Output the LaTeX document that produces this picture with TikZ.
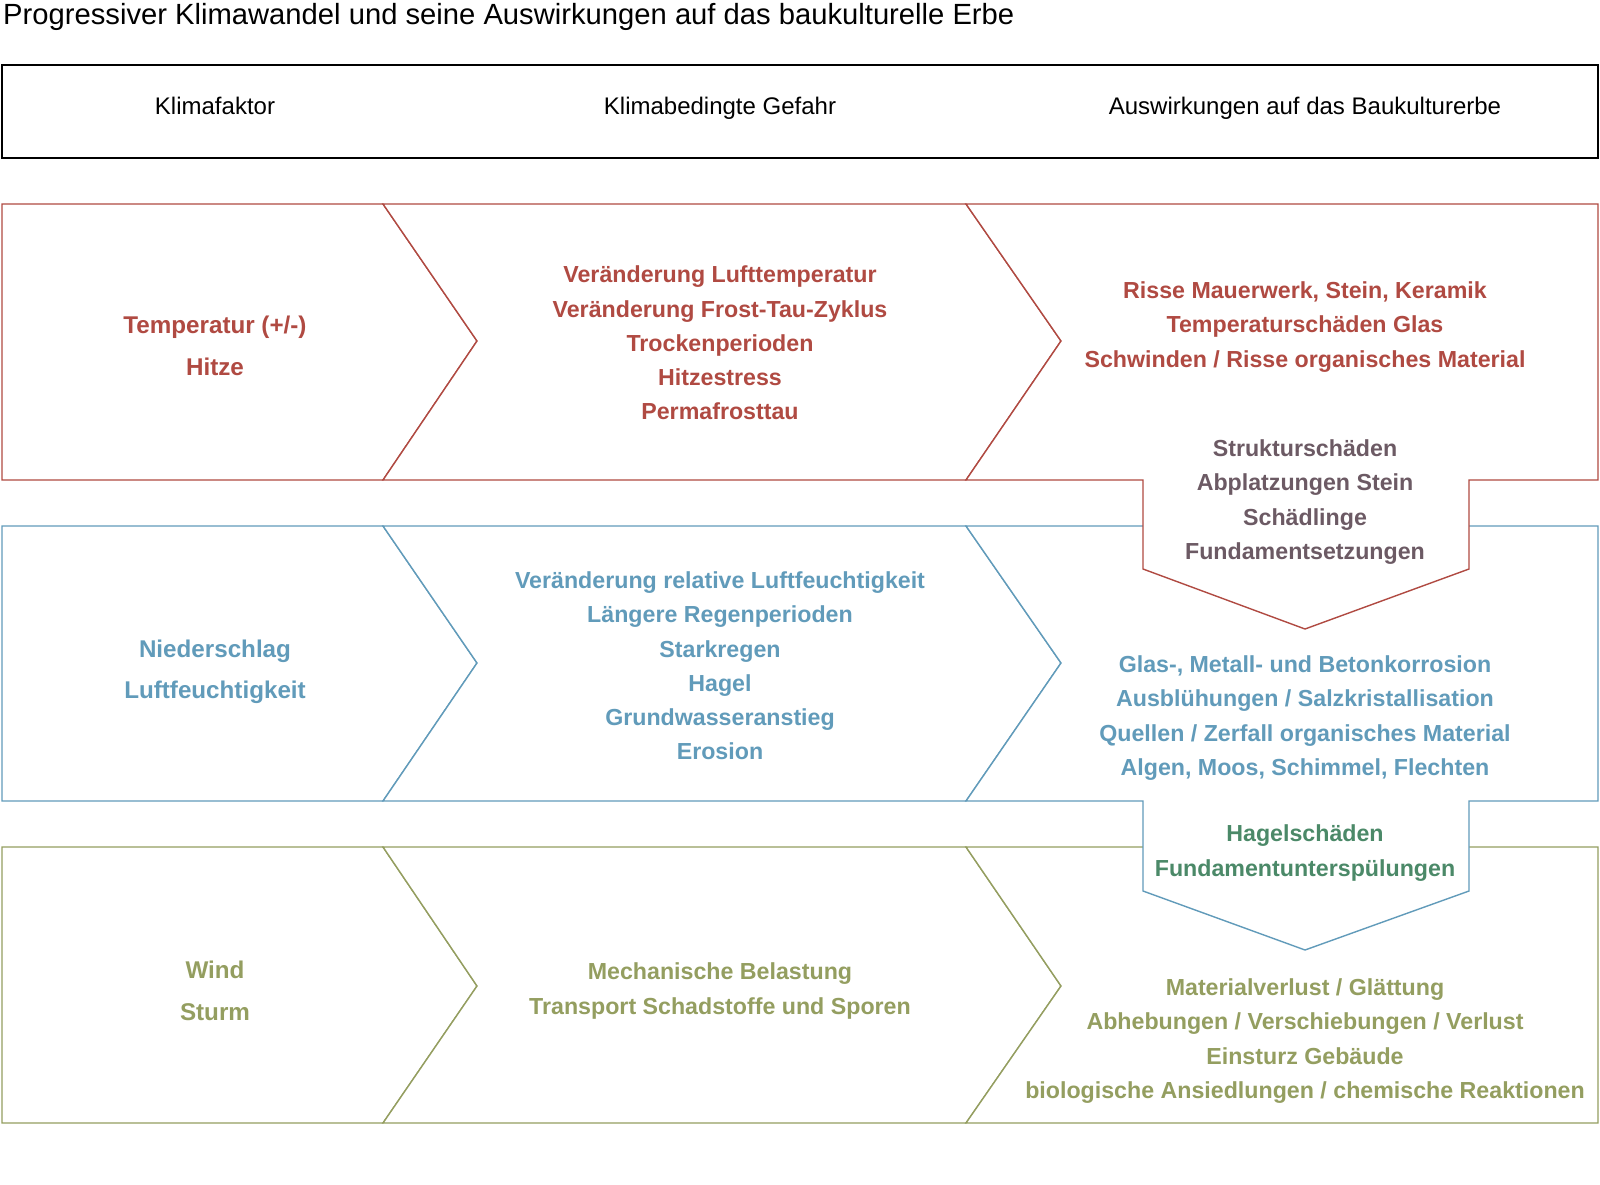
\documentclass[tikz,border=0pt]{standalone}
\usepackage{fontspec}
\setmainfont{Liberation Sans}
\usepackage{tikz}
\usetikzlibrary{positioning}
\definecolor{tempred}{RGB}{176,74,66}
\definecolor{rainblue}{RGB}{97,155,186}
\definecolor{windolive}{RGB}{148,158,96}
\definecolor{hailgreen}{RGB}{75,137,104}
\definecolor{structgray}{RGB}{108,90,100}

\begin{document}
\begin{tikzpicture}[x=1pt, y=-1pt,
    band/.style={line width=1.4pt, fill=white, line join=miter},
    txt/.style={align=center, font=\bfseries\fontsize{23.2}{34.2}\selectfont},
    factor/.style={align=center, font=\bfseries\fontsize{24.2}{41.5}\selectfont},
    head/.style={anchor=base, font=\fontsize{24}{28}\selectfont}]
    \useasboundingbox (0,0) rectangle (1600,1185);

    \node[anchor=base west, inner sep=0pt, font=\fontsize{29.2}{32}\selectfont] (title) at (3,25) {Progressiver Klimawandel und seine Auswirkungen auf das baukulturelle Erbe};
    \draw[line width=1.8pt] (2,65) rectangle (1598,158);
    \node[head] (hfactor) at (215,115) {Klimafaktor};
    \node[head] (hrisk) at (720,115) {Klimabedingte Gefahr};
    \node[head] (heffect) at (1305,115) {Auswirkungen auf das Baukulturerbe};

    \draw[band, draw=windolive] (2,847) -- (383,847) -- (477,986) -- (383,1123) -- (2,1123) -- cycle;
    \draw[band, draw=windolive] (383,847) -- (966,847) -- (1061,986) -- (966,1123) -- (383,1123) -- (477,986) -- cycle;
    \draw[band, draw=windolive] (966,847) -- (1598,847) -- (1598,1123) -- (966,1123) -- (1061,986) -- cycle;

    \draw[band, draw=rainblue] (2,526) -- (383,526) -- (477,663) -- (383,801) -- (2,801) -- cycle;
    \draw[band, draw=rainblue] (383,526) -- (966,526) -- (1061,663) -- (966,801) -- (383,801) -- (477,663) -- cycle;
    \draw[band, draw=rainblue] (966,526) -- (1598,526) -- (1598,801) -- (1469,801) -- (1469,891) -- (1305,950) -- (1143,891) -- (1143,801) -- (966,801) -- (1061,663) -- cycle;

    \draw[band, draw=tempred] (2,204) -- (383,204) -- (477,341) -- (383,480) -- (2,480) -- cycle;
    \draw[band, draw=tempred] (383,204) -- (966,204) -- (1061,341) -- (966,480) -- (383,480) -- (477,341) -- cycle;
    \draw[band, draw=tempred] (966,204) -- (1598,204) -- (1598,480) -- (1469,480) -- (1469,569) -- (1305,629) -- (1143,569) -- (1143,480) -- (966,480) -- (1061,341) -- cycle;

    \node[factor, tempred] (temp) at (215,346) {Temperatur (+/-)\\Hitze};
    \node[txt, tempred] (temprisk) at (720,343) {Veränderung Lufttemperatur\\Veränderung Frost-Tau-Zyklus\\Trockenperioden\\Hitzestress\\Permafrosttau};
    \node[txt, tempred] (tempeffect) at (1305,327) {Risse Mauerwerk, Stein, Keramik\\Temperaturschäden Glas\\Schwinden / Risse organisches Material};
    \node[txt, structgray] (struct) at (1305,502) {Strukturschäden\\Abplatzungen Stein\\Schädlinge\\Fundamentsetzungen};

    \node[factor, rainblue] (rain) at (215,672) {Niederschlag\\Luftfeuchtigkeit};
    \node[txt, rainblue] (rainrisk) at (720,666) {Veränderung relative Luftfeuchtigkeit\\Längere Regenperioden\\Starkregen\\Hagel\\Grundwasseranstieg\\Erosion};
    \node[txt, rainblue] (raineffect) at (1305,718) {Glas-, Metall- und Betonkorrosion\\Ausblühungen / Salzkristallisation\\Quellen / Zerfall organisches Material\\Algen, Moos, Schimmel, Flechten};
    \node[txt, hailgreen] (hail) at (1305,853) {Hagelschäden\\Fundamentunterspülungen};

    \node[factor, windolive] (wind) at (215,991) {Wind\\Sturm};
    \node[txt, windolive] (windrisk) at (720,991) {Mechanische Belastung\\Transport Schadstoffe und Sporen};
    \node[txt, windolive] (windeffect) at (1305,1041) {Materialverlust / Glättung\\Abhebungen / Verschiebungen / Verlust\\Einsturz Gebäude\\biologische Ansiedlungen / chemische Reaktionen};
\end{tikzpicture}
\end{document}
